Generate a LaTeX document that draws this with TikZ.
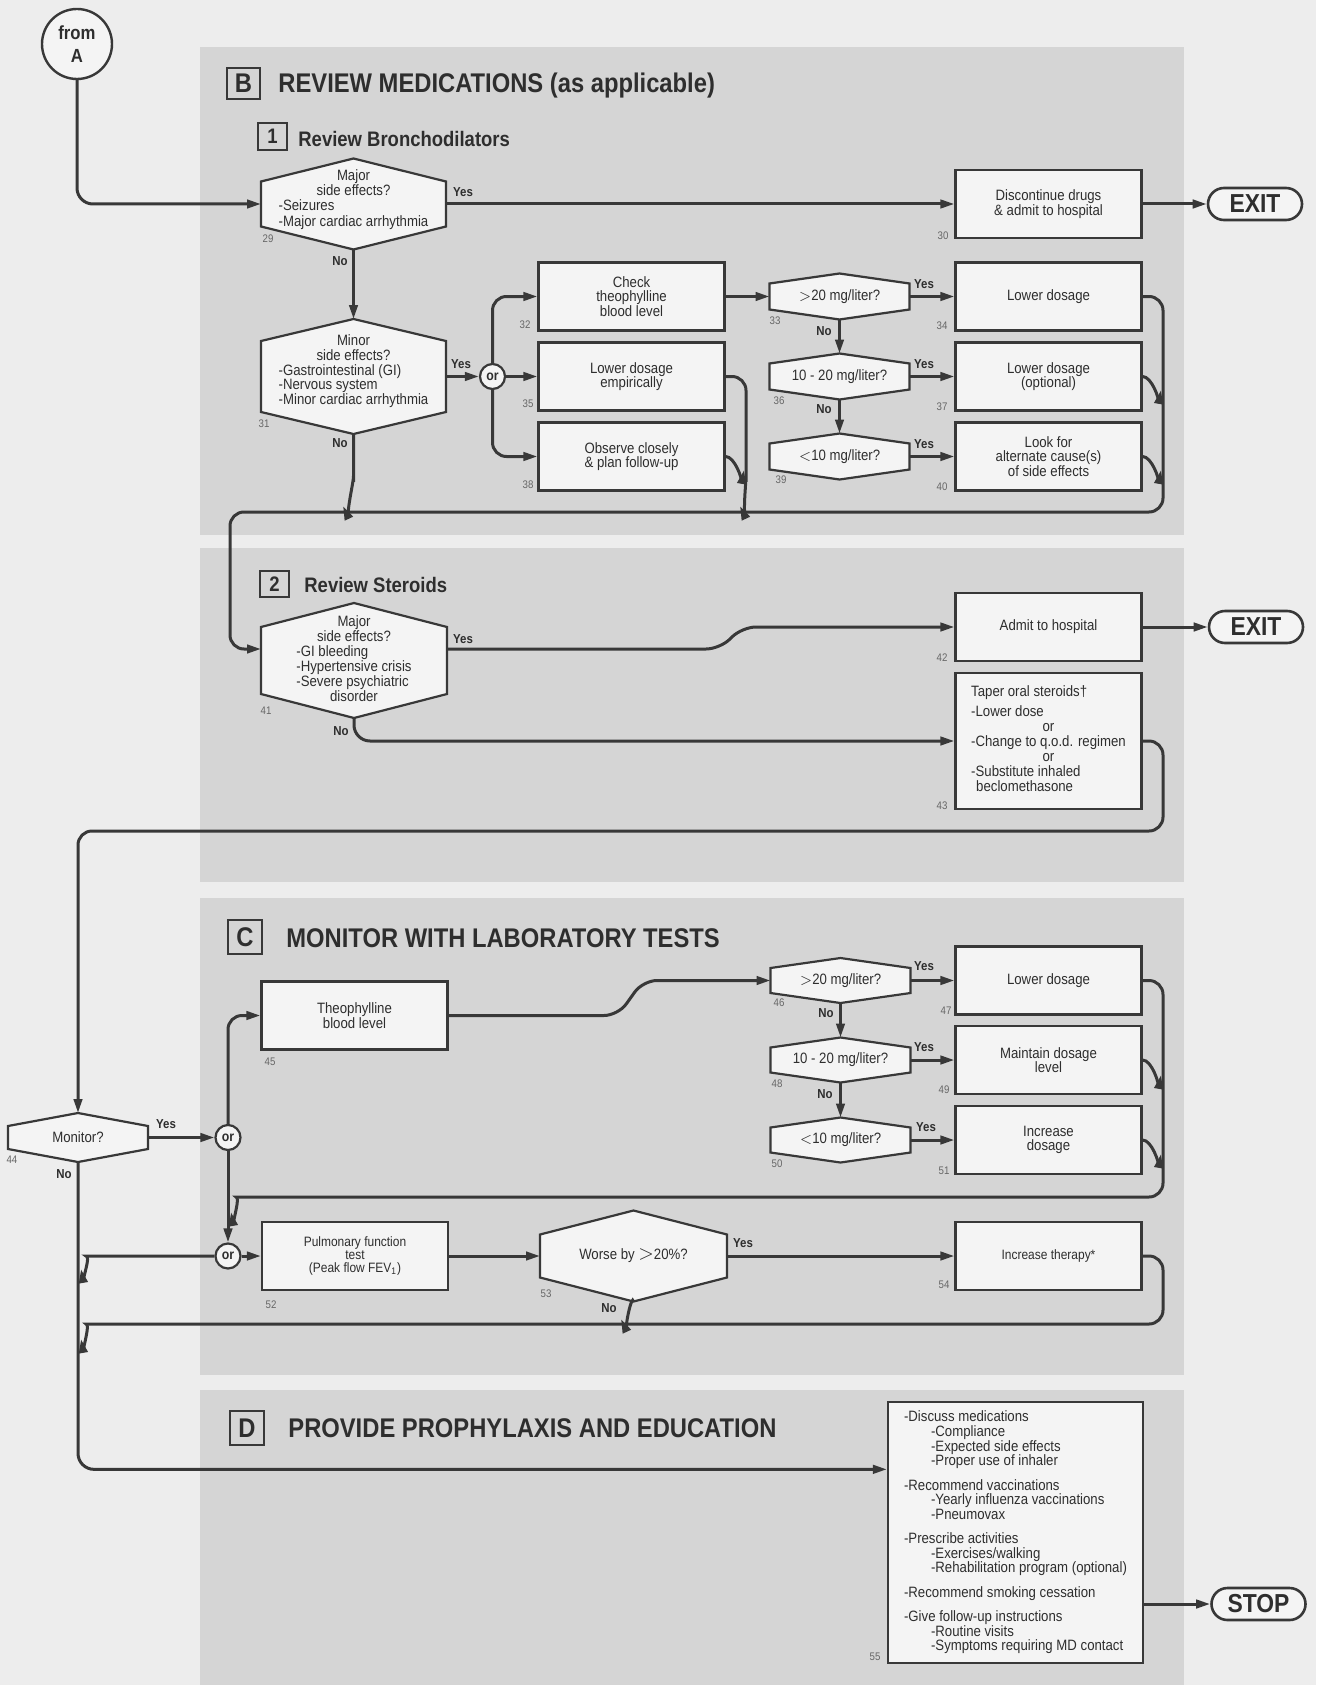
\documentclass[tikz,border=0pt]{standalone}
\usepackage{fontspec}
\setmainfont{Liberation Sans}[FakeStretch=0.88]
\usetikzlibrary{arrows.meta,calc}
\definecolor{pagec}{gray}{0.93}
\definecolor{panelc}{gray}{0.835}
\definecolor{boxc}{gray}{0.955}
\definecolor{linec}{gray}{0.22}
\definecolor{txtc}{gray}{0.18}
\definecolor{numc}{gray}{0.4}
\newcommand{\boxfont}{\fontsize{7.5}{7.3}\selectfont}
\newcommand{\hexfont}{\fontsize{7.5}{6.9}\selectfont}
\newcommand{\midrow}[1]{\multicolumn{1}{@{}c@{}}{#1}}
\newcommand{\itemcol}[1]{\begin{tabular}{@{}l@{}}#1\end{tabular}}
\newcommand{\subind}{\hspace*{13.5pt}}
\newcommand{\hexnode}[8]{%
  \path[hexline] (#2,#3) ++(0,-#5) -- ++(#4,#6) -- ++(0,{2*#5-2*#6})
    -- ++(-#4,#6) -- ++(-#4,-#6) -- ++(0,{2*#6-2*#5}) -- cycle;
  \node[hextext,minimum width=#4pt,minimum height=#5pt] (#1) at (#2,#3) {};
  \node[hextext] (#1t) at ([yshift=#8pt]#1.center) {#7};}

\begin{document}
\begin{tikzpicture}[x=0.5pt,y=-0.5pt,
  procbox/.style={draw=linec,fill=boxc,line width=1.1pt,minimum width=93pt,minimum height=34pt,inner sep=2pt,align=center,font=\boxfont,text=txtc},
  hexline/.style={draw=linec,fill=boxc,line width=1.1pt},
  hextext/.style={inner sep=0pt,outer sep=0pt,align=center,font=\boxfont,text=txtc},
  flow/.style={draw=linec,line width=1.5pt,rounded corners=7pt,-{Triangle[length=7pt,width=4.2pt]}},
  ornode/.style={circle,draw=linec,fill=boxc,line width=1.1pt,minimum size=12.5pt,inner sep=0pt,font=\bfseries\fontsize{7}{7}\selectfont,text=txtc},
  termbox/.style={draw=linec,fill=boxc,line width=1.3pt,rounded corners=8pt,minimum width=47pt,minimum height=16pt,inner sep=0pt,font=\bfseries\fontsize{13}{13}\selectfont,text=txtc},
  secbox/.style={draw=linec,line width=1pt,inner sep=0pt,text=txtc},
  sectitle/.style={anchor=base west,inner sep=0pt,text=txtc},
  bigfont/.style={font=\bfseries\fontsize{13.5}{13.5}\selectfont},
  subfont/.style={font=\bfseries\fontsize{10.5}{10.5}\selectfont},
  numlab/.style={inner sep=0pt,font=\fontsize{5.5}{5.5}\selectfont,text=numc},
  yn/.style={inner sep=0pt,font=\bfseries\fontsize{6.5}{6.5}\selectfont,text=txtc}]
\useasboundingbox (0,0) rectangle (1316,1685);
\fill[pagec] (0,0) rectangle (1316,1685);
\fill[panelc] (200,47) rectangle (1184,535);
\fill[panelc] (200,548) rectangle (1184,882);
\fill[panelc] (200,898) rectangle (1184,1375);
\fill[panelc] (200,1390) rectangle (1184,1685);

\node[secbox,bigfont,minimum width=16.5pt,minimum height=15.5pt] (secB) at (243.5,83.5) {B};
\node[sectitle,bigfont] (titB) at (278,93) {REVIEW MEDICATIONS (as applicable)};
\node[secbox,subfont,minimum width=14.5pt,minimum height=13.5pt] (sec1) at (272.5,136.5) {1};
\node[sectitle,subfont] (tit1) at (298,147) {Review Bronchodilators};
\node[secbox,subfont,minimum width=14.5pt,minimum height=13pt] (sec2) at (274.5,584) {2};
\node[sectitle,subfont] (tit2) at (304,592) {Review Steroids};
\node[secbox,bigfont,minimum width=17pt,minimum height=17pt] (secC) at (245,937) {C};
\node[sectitle,bigfont] (titC) at (286,947) {MONITOR WITH LABORATORY TESTS};
\node[secbox,bigfont,minimum width=17pt,minimum height=17pt] (secD) at (247,1428) {D};
\node[sectitle,bigfont] (titD) at (288,1437) {PROVIDE PROPHYLAXIS AND EDUCATION};

\node[circle,draw=linec,fill=boxc,line width=1.2pt,minimum size=35pt,inner sep=0pt,align=center,font=\bfseries\fontsize{9.5}{11.5}\selectfont,text=txtc] (fromA) at (77,44) {from\\A};

\hexnode{h29}{353.5}{204}{92.5}{45.5}{23}{\itemcol{\midrow{Major}\\\midrow{side effects?}\\-Seizures\\-Major cardiac arrhythmia}}{2}
\node[procbox] (b30) at (1048.5,204) {Discontinue drugs\\\& admit to hospital};
\node[termbox] (exit1) at (1255,204) {EXIT};
\hexnode{h31}{353.5}{376.5}{92.5}{57.5}{22}{\hexfont\itemcol{\midrow{Minor}\\\midrow{side effects?}\\-Gastrointestinal (GI)\\-Nervous system\\-Minor cardiac arrhythmia}}{2.5}
\node[ornode] (or1) at (492.5,376.5) {or};
\node[procbox] (b32) at (631.5,296.5) {Check\\theophylline\\blood level};
\node[procbox] (b35) at (631.5,376.5) {Lower dosage\\empirically};
\node[procbox] (b38) at (631.5,456.5) {Observe closely\\\& plan follow-up};
\hexnode{h33}{839.5}{296.5}{70}{23}{10}{$>$20 mg/liter?}{0}
\hexnode{h36}{839.5}{376.5}{70}{23}{10}{10 - 20 mg/liter?}{0}
\hexnode{h39}{839.5}{456.5}{70}{23}{10}{$<$10 mg/liter?}{0}
\node[procbox] (b34) at (1048.5,296.5) {Lower dosage};
\node[procbox] (b37) at (1048.5,376.5) {Lower dosage\\(optional)};
\node[procbox] (b40) at (1048.5,456.5) {Look for\\alternate cause(s)\\of side effects};

\hexnode{h41}{354}{660.5}{93}{57.5}{24}{\hexfont\itemcol{\midrow{Major}\\\midrow{side effects?}\\-GI bleeding\\-Hypertensive crisis\\-Severe psychiatric\\\midrow{disorder}}}{0}
\node[procbox] (b42) at (1048.5,627) {Admit to hospital};
\node[termbox] (exit2) at (1256,627) {EXIT};
\node[procbox,minimum height=68pt] (b43) at (1048.5,741) {\itemcol{Taper oral steroids†\\[2.5pt]-Lower dose\\\midrow{or}\\-Change to q.o.d. regimen\\\midrow{or}\\-Substitute inhaled\\\hspace*{2.5pt}beclomethasone}};

\hexnode{h44}{78}{1137.5}{70}{24.5}{13}{Monitor?}{0}
\node[ornode] (or2) at (228,1137.5) {or};
\node[procbox] (b45) at (354.5,1015.5) {Theophylline\\blood level};
\hexnode{h46}{840.5}{980.5}{70}{22.5}{10}{$>$20 mg/liter?}{0}
\hexnode{h48}{840.5}{1060}{70}{22.5}{10}{10 - 20 mg/liter?}{0}
\hexnode{h50}{840.5}{1140}{70}{22.5}{10}{$<$10 mg/liter?}{0}
\node[procbox] (b47) at (1048.5,980.5) {Lower dosage};
\node[procbox] (b49) at (1048.5,1060) {Maintain dosage\\level};
\node[procbox] (b51) at (1048.5,1140) {Increase\\dosage};
\node[ornode] (or3) at (228,1256) {or};
\node[procbox,font=\fontsize{6.8}{6.3}\selectfont] (b52) at (355,1256) {Pulmonary function\\test\\(Peak flow FEV\textsubscript{1})};
\hexnode{h53}{633.5}{1256}{93.5}{45.5}{24}{Worse by {\fontsize{10}{10}\selectfont$>$}20\%?}{0}
\node[procbox,font=\fontsize{6.8}{6.3}\selectfont] (b54) at (1048.5,1256) {Increase therapy*};

\node[procbox,minimum width=127.5pt,minimum height=130.5pt,align=left] (b55) at (1015.5,1532.5) {-Discuss medications\\
\subind-Compliance\\
\subind-Expected side effects\\
\subind-Proper use of inhaler\\[4.9pt]
-Recommend vaccinations\\
\subind-Yearly influenza vaccinations\\
\subind-Pneumovax\\[4.9pt]
-Prescribe activities\\
\subind-Exercises/walking\\
\subind-Rehabilitation program (optional)\\[4.9pt]
-Recommend smoking cessation\\[4.9pt]
-Give follow-up instructions\\
\subind-Routine visits\\
\subind-Symptoms requiring MD contact};
\node[termbox] (stop) at (1258.5,1604) {STOP};

\node[numlab] (n29) at (268,239) {29};
\node[numlab] (n30) at (943,236) {30};
\node[numlab] (n31) at (264,424) {31};
\node[numlab] (n32) at (525,325) {32};
\node[numlab] (n33) at (775,321) {33};
\node[numlab] (n34) at (942,326) {34};
\node[numlab] (n35) at (528,404) {35};
\node[numlab] (n36) at (779,401) {36};
\node[numlab] (n37) at (942,407) {37};
\node[numlab] (n38) at (528,485) {38};
\node[numlab] (n39) at (781,480) {39};
\node[numlab] (n40) at (942,487) {40};
\node[numlab] (n41) at (266,711) {41};
\node[numlab] (n42) at (942,658) {42};
\node[numlab] (n43) at (942,806) {43};
\node[numlab] (n44) at (12,1160) {44};
\node[numlab] (n45) at (270,1062) {45};
\node[numlab] (n46) at (779,1003) {46};
\node[numlab] (n47) at (946,1011) {47};
\node[numlab] (n48) at (777,1084) {48};
\node[numlab] (n49) at (944,1090) {49};
\node[numlab] (n50) at (777,1164) {50};
\node[numlab] (n51) at (944,1171) {51};
\node[numlab] (n52) at (271,1305) {52};
\node[numlab] (n53) at (546,1294) {53};
\node[numlab] (n54) at (944,1285) {54};
\node[numlab] (n55) at (875,1657) {55};

\node[yn] (yes29) at (463,192) {Yes};
\node[yn] (no29) at (340,261) {No};
\node[yn] (yes31) at (461,364) {Yes};
\node[yn] (no31) at (340,443) {No};
\node[yn] (yes33) at (924,284) {Yes};
\node[yn] (no33) at (824,331) {No};
\node[yn] (yes36) at (924,364) {Yes};
\node[yn] (no36) at (824,409) {No};
\node[yn] (yes39) at (924,444) {Yes};
\node[yn] (yes41) at (463,639) {Yes};
\node[yn] (no41) at (341,731) {No};
\node[yn] (yes44) at (166,1124) {Yes};
\node[yn] (no44) at (64,1174) {No};
\node[yn] (yes46) at (924,966) {Yes};
\node[yn] (no46) at (826,1013) {No};
\node[yn] (yes48) at (924,1047) {Yes};
\node[yn] (no48) at (825,1094) {No};
\node[yn] (yes50) at (926,1127) {Yes};
\node[yn] (yes53) at (743,1243) {Yes};
\node[yn] (no53) at (609,1308) {No};

\coordinate (m37) at (1161,390);
\coordinate (m40) at (1161,470);
\coordinate (m38) at (744,470);
\coordinate (m35) at (740,506);
\coordinate (m31) at (343,506);
\coordinate (m49) at (1161,1075);
\coordinate (m51) at (1161,1154);
\coordinate (mc1) at (231,1212);
\coordinate (m53) at (621,1319);
\coordinate (ml1) at (81,1269);
\coordinate (ml2) at (81,1339);

\draw[flow,rounded corners=8pt] (fromA.south) |- (h29.west);
\draw[flow] (h29.east) -- (b30.west);
\draw[flow] (b30.east) -- (exit1.west);
\draw[flow] (h29.south) -- (h31.north);
\draw[flow] (h31.east) -- (or1.west);
\draw[flow] (or1.north) |- (b32.west);
\draw[flow] (or1.east) -- (b35.west);
\draw[flow] (or1.south) |- (b38.west);
\draw[flow] (b32.east) -- (h33.west);
\draw[flow] (h33.east) -- (b34.west);
\draw[flow] (h33.south) -- (h36.north);
\draw[flow] (h36.east) -- (b37.west);
\draw[flow] (h36.south) -- (h39.north);
\draw[flow] (h39.east) -- (b40.west);
\draw[flow] (b34.east) -| (1163,512) -| (230,649) -- ([yshift=5.75pt]h41.west);
\draw[flow] (b37.east) to[out=0,in=-100] (m37);
\draw[flow] (b40.east) to[out=0,in=-100] (m40);
\draw[flow] (b35.east) -- (746,376.5) -- (746,490) to[out=90,in=-65] (m35);
\draw[flow] (b38.east) to[out=0,in=-100] (m38);
\draw[flow] (h31.south) -- (353.5,490) to[out=90,in=-65] (m31);

\draw[flow] ([yshift=5.75pt]h41.east) -- (720,649) -- (742,627) -- (b42.west);
\draw[flow] (b42.east) -- (exit2.west);
\draw[flow,rounded corners=8pt] (h41.south) |- (b43.west);
\draw[flow] (b43.east) -| (1163,831) -| (h44.north);

\draw[flow] (h44.east) -- (or2.west);
\draw[flow] (or2.north) |- (b45.west);
\draw[flow] (or2.south) -- (or3.north);
\draw[flow] (or3.east) -- (b52.west);
\draw[flow] (b45.east) -- (618,1015.5) -- (643,980.5) -- (h46.west);
\draw[flow] (h46.east) -- (b47.west);
\draw[flow] (h46.south) -- (h48.north);
\draw[flow] (h48.east) -- (b49.west);
\draw[flow] (h48.south) -- (h50.north);
\draw[flow] (h50.east) -- (b51.west);
\draw[flow] (b47.east) -| (1163,1197) -- (250,1197) to[out=180,in=-80] (mc1);
\draw[flow] (b49.east) to[out=0,in=-100] (m49);
\draw[flow] (b51.east) to[out=0,in=-100] (m51);
\draw[flow] (b52.east) -- (h53.west);
\draw[flow] (h53.east) -- (b54.west);
\draw[flow] (b54.east) -| (1163,1324) -- (100,1324) to[out=180,in=-80] (ml2);
\draw[flow] (h53.south) to[out=100,in=-65] (m53);
\draw[flow] (or3.west) -- (100,1256) to[out=180,in=-80] (ml1);
\draw[flow,rounded corners=8pt] (h44.south) |- ($(b55.north west)!0.26!(b55.south west)$);
\draw[flow] (b55.east |- stop.west) -- (stop.west);
\end{tikzpicture}
\end{document}
